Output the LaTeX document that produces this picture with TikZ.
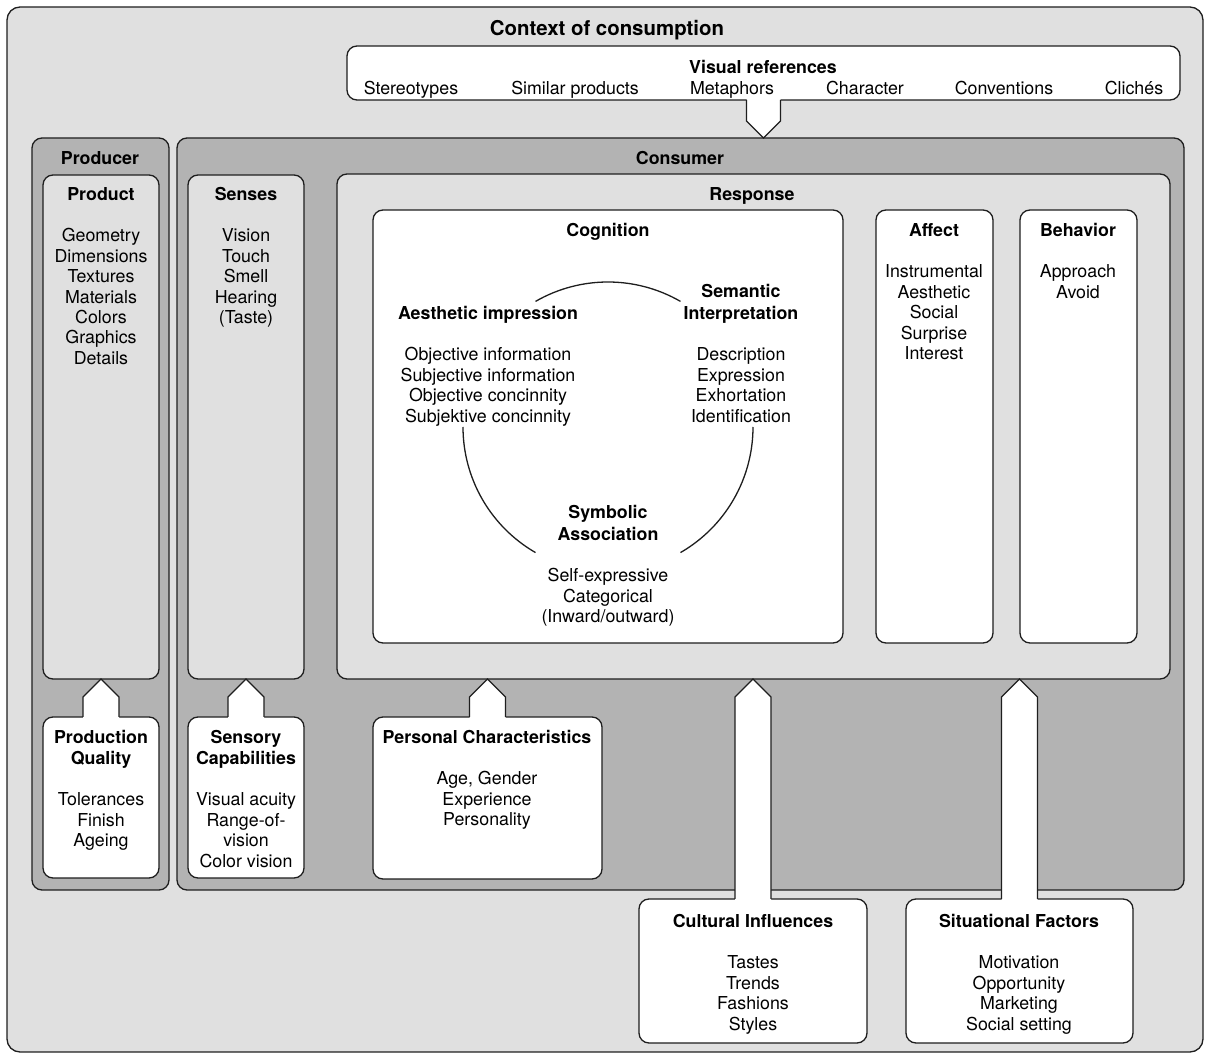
\documentclass[tikz,border=0pt]{standalone}
\usepackage{fontspec}
\setmainfont{TeX Gyre Heros}
\usetikzlibrary{calc}

\definecolor{paper}{HTML}{E0E0E0}
\definecolor{band}{HTML}{B3B3B3}
\definecolor{ink}{HTML}{1E1E1E}

% text nodes are placed by the baseline of their last line
\tikzset{
  edge/.style={draw=ink, line width=0.65pt, line join=miter},
  spanbox/.style n args={4}{rectangle, edge, rounded corners=5pt, outer sep=0pt,
    inner sep=0pt, at={({(#1+#3)/2},{(#2+#4)/2})},
    minimum width={(#3-#1)*0.5pt}, minimum height={(#4-#2)*0.5pt}},
  txt/.style={font=\fontsize{8.9}{10.2}\selectfont, align=center, inner sep=0pt, anchor=base},
  hd/.style={txt, font=\bfseries\fontsize{8.9}{10.2}\selectfont},
  hdw/.style={txt, font=\bfseries\fontsize{8.9}{11}\selectfont},
}

% white arrow rising from the top of box #1 up to the bottom of box #2
\newcommand\riser[2]{%
  \path (#1.north) coordinate (rb) (#1.north |- #2.south) coordinate (rt);
  \fill[white] ($(rb)+(-18,2)$) -- ($(rt)+(-18,18)$) -- (rt) -- ($(rt)+(18,18)$) -- ($(rb)+(18,2)$) -- cycle;
  \draw[edge] ($(rb)+(-18,0)$) -- ($(rt)+(-18,18)$) -- (rt) -- ($(rt)+(18,18)$) -- ($(rb)+(18,0)$);
}

\begin{document}
\begin{tikzpicture}[x=0.5pt, y=-0.5pt]
\useasboundingbox (0,0) rectangle (1207,1053);

% frame of the whole context
\node[spanbox={7}{7}{1203}{1052}, fill=paper, rounded corners=6.5pt] (context) {};
\node[hd, font=\bfseries\fontsize{10.2}{12}\selectfont] (t-context) at (607,36) {Context of consumption};

% visual references
\node[spanbox={347}{46}{1180}{100}, fill=white] (vref) {};
\node[hd] (t-vref) at (763,74) {Visual references};
\node[txt] (v1) at (411,95) {Stereotypes};
\node[txt] (v2) at (575,95) {Similar products};
\node[txt] (v3) at (732,95) {Metaphors};
\node[txt] (v4) at (865,95) {Character};
\node[txt] (v5) at (1004,95) {Conventions};
\node[txt] (v6) at (1134,95) {Clichés};

% producer column
\node[spanbox={32}{138}{169}{890}, fill=band] (producer) {};
\node[hd] (t-producer) at (100,165) {Producer};
\node[spanbox={43}{175}{159}{679}, fill=paper] (product) {};
\node[hd] (t-product) at (101,201) {Product};
\node[txt] (l-product) at (101,364.4) {Geometry\\Dimensions\\Textures\\Materials\\Colors\\Graphics\\Details};
\node[spanbox={43}{717}{159}{878}, fill=white] (pq) {};
\node[hd] (t-pq) at (101,764.4) {Production\\Quality};
\node[txt] (l-pq) at (101,846.8) {Tolerances\\Finish\\Ageing};

% consumer
\node[spanbox={177}{138}{1184}{890}, fill=band] (consumer) {};
\node[hd] (t-consumer) at (680,165) {Consumer};

\node[spanbox={188}{175}{304}{679}, fill=paper] (senses) {};
\node[hd] (t-senses) at (246,201) {Senses};
\node[txt] (l-senses) at (246,323.6) {Vision\\Touch\\Smell\\Hearing\\(Taste)};
\node[spanbox={188}{717}{304}{878}, fill=white] (sc) {};
\node[hd] (t-sc) at (246,764.4) {Sensory\\Capabilities};
\node[txt] (l-sc) at (246,867.2) {Visual acuity\\Range-of-\\vision\\Color vision};

\node[spanbox={337}{174}{1170}{679}, fill=paper] (response) {};
\node[hd] (t-response) at (752,201) {Response};

\node[spanbox={373}{210}{843}{643}, fill=white] (cognition) {};
\node[hd] (t-cognition) at (608,237) {Cognition};
\node[hd] (t-aesthetic) at (488,320) {Aesthetic impression};
\node[txt] (l-aesthetic) at (488,422.2) {Objective information\\Subjective information\\Objective concinnity\\Subjektive concinnity};
\node[hdw] (t-semantic) at (741,320) {Semantic\\Interpretation};
\node[txt] (l-semantic) at (741,422.2) {Description\\Expression\\Exhortation\\Identification};
\node[hdw] (t-symbolic) at (608,541) {Symbolic\\Association};
\node[txt] (l-symbolic) at (608,622.8) {Self-expressive\\Categorical\\(Inward/outward)};

% the cycle linking the three kinds of cognition
\coordinate (cyc) at (608,427);
\draw[edge] (cyc) ++(120:72.5pt) arc[start angle=120, end angle=60, radius=72.5pt];
\draw[edge] (cyc) ++(180:72.5pt) arc[start angle=180, end angle=240, radius=72.5pt];
\draw[edge] (cyc) ++(0:72.5pt) arc[start angle=0, end angle=-60, radius=72.5pt];

\node[spanbox={876}{210}{993}{643}, fill=white] (affect) {};
\node[hd] (t-affect) at (934,237) {Affect};
\node[txt] (l-affect) at (934,359.6) {Instrumental\\Aesthetic\\Social\\Surprise\\Interest};
\node[spanbox={1020}{210}{1137}{643}, fill=white] (behavior) {};
\node[hd] (t-behavior) at (1078,237) {Behavior};
\node[txt] (l-behavior) at (1078,298.4) {Approach\\Avoid};

\node[spanbox={373}{717}{602}{879}, fill=white] (pc) {};
\node[hd] (t-pc) at (487,744) {Personal Characteristics};
\node[txt] (l-pc) at (487,825.8) {Age, Gender\\Experience\\Personality};

% outside influences
\node[spanbox={639}{899}{867}{1043}, fill=white] (ci) {};
\node[hd] (t-ci) at (753,928) {Cultural Influences};
\node[txt] (l-ci) at (753,1030.2) {Tastes\\Trends\\Fashions\\Styles};
\node[spanbox={906}{899}{1133}{1043}, fill=white] (sf) {};
\node[hd] (t-sf) at (1019,928) {Situational Factors};
\node[txt] (l-sf) at (1019,1030.2) {Motivation\\Opportunity\\Marketing\\Social setting};

% arrows into the boxes they act on
\riser{pq}{product}
\riser{sc}{senses}
\riser{pc}{response}
\riser{ci}{response}
\riser{sf}{response}

% pointer from the visual references down to the consumer
\path (vref.south) coordinate (db) (vref.south |- consumer.north) coordinate (dt);
\fill[white] ($(db)+(-17,-2)$) -- ($(dt)+(-17,-17)$) -- (dt) -- ($(dt)+(17,-17)$) -- ($(db)+(17,-2)$) -- cycle;
\draw[edge] ($(db)+(-17,0)$) -- ($(dt)+(-17,-17)$) -- (dt) -- ($(dt)+(17,-17)$) -- ($(db)+(17,0)$);
\end{tikzpicture}
\end{document}
